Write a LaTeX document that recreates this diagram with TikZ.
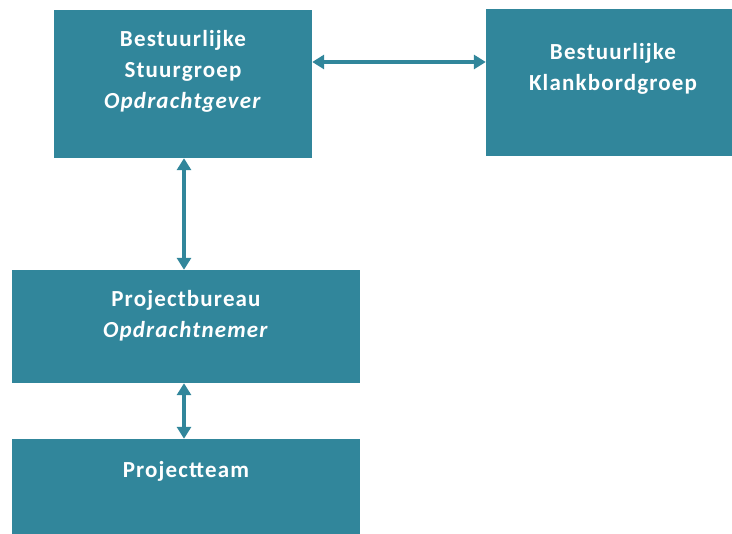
\documentclass[tikz,border=0pt]{standalone}
\usepackage{fontspec}
\setmainfont[LetterSpace=5]{Carlito}
\usetikzlibrary{arrows.meta,positioning}

\definecolor{teal}{RGB}{49,134,155}

\tikzset{
  blok/.style={fill=teal, draw=none, inner sep=0pt, anchor=center},
  tekst/.style={text=white, font=\fontsize{23}{31}\selectfont\bfseries, align=center},
  pijl/.style={teal, line width=4.5pt, {Triangle[length=12pt,width=14pt]}-{Triangle[length=12pt,width=14pt]}}
}

\begin{document}
\begin{tikzpicture}[x=1pt,y=-1pt]

    \useasboundingbox (0,0) rectangle (732,534);

    % blokken
    \node[blok, minimum width=258pt, minimum height=148pt] (stuur)  at (183,84)    {};
    \node[blok, minimum width=246pt, minimum height=147pt] (klank)  at (609,82.5)  {};
    \node[blok, minimum width=348pt, minimum height=113pt] (bureau) at (186,326.5) {};
    \node[blok, minimum width=348pt, minimum height=95pt]  (team)   at (186,486.5) {};

    % teksten
    \node[tekst] (stuurtxt)  at ([yshift=13pt]stuur.center)  {Bestuurlijke\\Stuurgroep\\\textit{Opdrachtgever}};
    \node[tekst] (klanktxt)  at ([xshift=4pt,yshift=14pt]klank.center)  {Bestuurlijke\\Klankbordgroep};
    \node[tekst] (bureautxt) at ([yshift=11pt]bureau.center) {Projectbureau\\\textit{Opdrachtnemer}};
    \node[tekst] (teamtxt)   at ([yshift=15pt]team.center)   {Projectteam};

    % pijlen
    \draw[pijl] ([yshift=22pt]stuur.east) -- ([yshift=22pt]stuur.east -| klank.west);
    \draw[pijl] ([xshift=1pt]stuur.south) -- ([xshift=1pt]stuur.south |- bureau.north);
    \draw[pijl] ([xshift=-2pt]bureau.south) -- ([xshift=-2pt]bureau.south |- team.north);
    % \draw[pijl] (bureau.east) -- (klank.south);

\end{tikzpicture}
\end{document}
